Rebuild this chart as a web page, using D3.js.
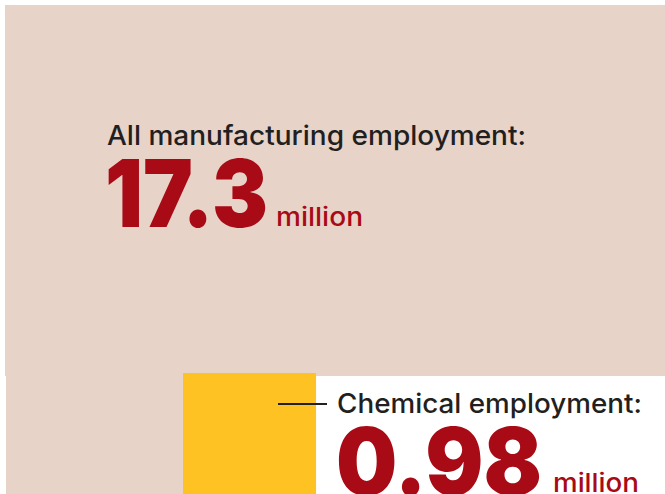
<!DOCTYPE html>
<html lang="en">
<head>
<meta charset="UTF-8">
<title>Chemical vs manufacturing employment</title>
<script src="https://d3js.org/d3.v7.min.js"></script>
<style>
    body { margin: 0; padding: 0; background: #fff; overflow: hidden; }
    svg { display: block; }
    text { font-family: Inter, "Noto Sans", sans-serif; }
</style>
</head>
<body>
<svg id="chart" width="665" height="494"></svg>
<script>
    // values (millions of jobs)
    const categories = ["All manufacturing employment:", "Chemical employment:"];
    const values = [17.3, 0.98];
    const valueLabels = ["17.3", "0.98"];
    const unit = "million";

    const width = 665, height = 494;
    const svg = d3.select("#chart");

    // square side proportional to sqrt(value)
    const side = d3.scaleSqrt().domain([0, values[0]]).range([0, 559]);

    const frame = { left: 5, top: 5, right: 665, bottom: 376 };
    const small = side(values[1]);
    const sqX = 183, sqY = 373;

    // the total: pink area (L-shape around the label panel)
    svg.append("rect")
        .attr("x", frame.left).attr("y", frame.top)
        .attr("width", frame.right - frame.left)
        .attr("height", frame.bottom - frame.top)
        .attr("fill", "#e8d3c9");
    svg.append("rect")
        .attr("x", frame.left + 1).attr("y", frame.bottom - 1)
        .attr("width", sqX - frame.left - 1)
        .attr("height", height - frame.bottom + 1)
        .attr("fill", "#e8d3c9");

    // chemical square
    svg.append("rect")
        .attr("x", sqX).attr("y", sqY)
        .attr("width", small).attr("height", small)
        .attr("fill", "#fec323");

    // leader line
    svg.append("line")
        .attr("x1", 278).attr("x2", 327)
        .attr("y1", 404).attr("y2", 404)
        .attr("stroke", "#222").attr("stroke-width", 2);

    function label(x, y, txt, size, weight, color, len) {
        svg.append("text")
            .attr("x", x).attr("y", y)
            .attr("font-size", size)
            .attr("font-weight", weight)
            .attr("fill", color)
            .attr("textLength", len)
            .attr("lengthAdjust", "spacingAndGlyphs")
            .text(txt);
    }

    // total labels
    label(107, 145, categories[0], 27, 500, "#231f20", 419);
    label(105, 227, valueLabels[0], 94, 900, "#a80a16", 163);
    label(276, 226, unit, 26, 500, "#a80a16", 87);

    // chemical labels
    label(337, 413, categories[1], 27, 500, "#231f20", 305);
    label(336, 495, valueLabels[1], 94, 900, "#a80a16", 206);
    label(553, 492, unit, 26, 500, "#a80a16", 86);
</script>
</body>
</html>
